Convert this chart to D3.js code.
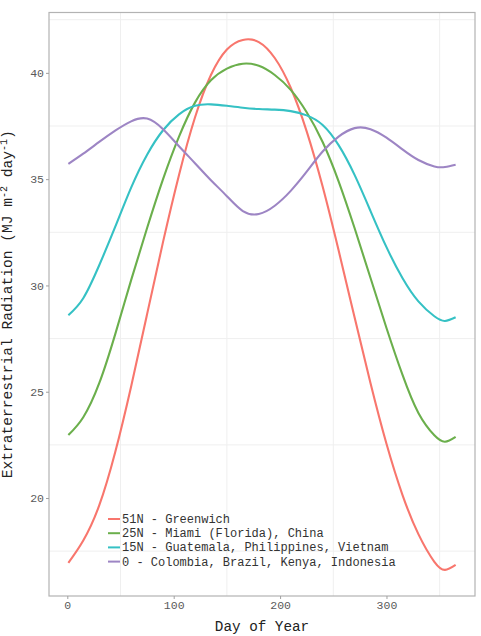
<!DOCTYPE html>
<html>
<head>
<meta charset="utf-8">
<script src="https://cdn.jsdelivr.net/npm/d3@7"></script>
<style>
  body { margin: 0; background: #ffffff; }
  svg { display: block; font-family: "Courier New", "Liberation Mono", monospace; }
</style>
</head>
<body>
<svg id="chart"></svg>
<script>
var days = [1, 15, 30, 45, 60, 75, 90, 105, 120, 135, 150, 165, 180, 195, 210, 225, 240, 255, 270, 285, 300, 315, 330, 345, 355, 365];

var lat51 = [16.95, 18.0, 19.65, 22.15, 25.25, 28.65, 32.05, 35.2, 37.9, 39.9, 41.1, 41.55, 41.45, 40.7, 39.3, 37.25, 34.65, 31.65, 28.5, 25.4, 22.55, 20.15, 18.3, 17.0, 16.62, 16.85];
var lat25 = [22.96, 23.8, 25.4, 27.7, 30.25, 32.7, 35.0, 37.0, 38.6, 39.65, 40.2, 40.43, 40.33, 39.9, 39.2, 38.15, 36.75, 34.9, 32.7, 30.35, 28.0, 25.8, 24.0, 22.95, 22.65, 22.88];
var lat15 = [28.6, 29.4, 30.95, 32.75, 34.6, 36.15, 37.3, 38.05, 38.45, 38.52, 38.45, 38.36, 38.3, 38.27, 38.2, 38.0, 37.55, 36.6, 35.2, 33.5, 31.8, 30.35, 29.25, 28.55, 28.33, 28.5];
var lat0 = [35.72, 36.2, 36.75, 37.28, 37.72, 37.85, 37.35, 36.55, 35.75, 34.95, 34.2, 33.5, 33.36, 33.75, 34.45, 35.35, 36.3, 37.0, 37.4, 37.35, 36.95, 36.4, 35.9, 35.6, 35.57, 35.68];

var seriesNames = ["51N - Greenwich", "25N - Miami (Florida), China", "15N - Guatemala, Philippines, Vietnam", "0 - Colombia, Brazil, Kenya, Indonesia"];
var seriesColors = ["#F8766D", "#6BAF4C", "#35C1C4", "#9D85C4"];

var xTicks = [0, 100, 200, 300];
var yTicks = [20, 25, 30, 35, 40];
var xGrid = [50, 150, 250, 350];
var yGrid = [17.5, 22.5, 27.5, 32.5, 37.5, 42.5];

var dimensions = {
    width: 481,
    height: 636,
    margin: { top: 12.5, bottom: 40, right: 6, left: 49 }
}

var svg = d3.select("#chart")
    .attr("width", dimensions.width)
    .attr("height", dimensions.height);

var panelBottom = dimensions.height - dimensions.margin.bottom;
var panelRight = dimensions.width - dimensions.margin.right;

var xScale = d3.scaleLinear()
    .domain([-17.2, 383.2])
    .range([dimensions.margin.left, panelRight]);

var yScale = d3.scaleLinear()
    .domain([15.39, 42.84])
    .range([panelBottom, dimensions.margin.top]);

// faint grid (only the in-between lines show in the original)
svg.append("g")
    .selectAll("line")
    .data(xGrid)
    .enter()
    .append("line")
    .attr("x1", d => xScale(d))
    .attr("x2", d => xScale(d))
    .attr("y1", dimensions.margin.top)
    .attr("y2", panelBottom)
    .attr("stroke", "#efefef")
    .attr("stroke-width", 1);

svg.append("g")
    .selectAll("line")
    .data(yGrid)
    .enter()
    .append("line")
    .attr("x1", dimensions.margin.left)
    .attr("x2", panelRight)
    .attr("y1", d => yScale(d))
    .attr("y2", d => yScale(d))
    .attr("stroke", "#efefef")
    .attr("stroke-width", 1);

var series = [lat51, lat25, lat15, lat0];

var line = d3.line()
    .x((d, i) => xScale(days[i]))
    .y(d => yScale(d))
    .curve(d3.curveNatural);

svg.append("g")
    .selectAll("path")
    .data(series)
    .enter()
    .append("path")
    .attr("d", d => line(d))
    .attr("fill", "none")
    .attr("stroke", (d, i) => seriesColors[i])
    .attr("stroke-width", 2.1);

// panel border
svg.append("rect")
    .attr("x", dimensions.margin.left)
    .attr("y", dimensions.margin.top)
    .attr("width", panelRight - dimensions.margin.left)
    .attr("height", panelBottom - dimensions.margin.top)
    .attr("fill", "none")
    .attr("stroke", "#b3b3b3")
    .attr("stroke-width", 1.2);

var yAxis = svg.append("g")
    .attr("transform", `translate(${dimensions.margin.left},0)`)
    .call(d3.axisLeft(yScale).tickValues(yTicks).tickSize(3).tickPadding(2));

var xAxis = svg.append("g")
    .attr("transform", `translate(0,${panelBottom})`)
    .call(d3.axisBottom(xScale).tickValues(xTicks).tickSize(3).tickPadding(2));

[xAxis, yAxis].forEach(function(ax) {
    ax.select(".domain").remove();
    ax.selectAll(".tick line").attr("stroke", "#a0a0a0");
    ax.selectAll(".tick text")
        .attr("fill", "#5a5a5a")
        .style("font-family", "'Courier New', 'Liberation Mono', monospace")
        .style("font-size", "11.5px");
});

// axis titles
svg.append("text")
    .attr("x", (dimensions.margin.left + panelRight) / 2)
    .attr("y", 631)
    .attr("text-anchor", "middle")
    .attr("fill", "#222")
    .style("font-size", "14.3px")
    .text("Day of Year");

var yTitle = svg.append("text")
    .attr("transform", "translate(12," + ((dimensions.margin.top + panelBottom) / 2) + ")rotate(-90)")
    .attr("text-anchor", "middle")
    .attr("fill", "#222")
    .style("font-size", "14.6px");

yTitle.append("tspan").text("Extraterrestrial Radiation (MJ m");
yTitle.append("tspan").attr("dy", -5).style("font-size", "10px").text("-2");
yTitle.append("tspan").attr("dy", 5).text(" day");
yTitle.append("tspan").attr("dy", -5).style("font-size", "10px").text("-1");
yTitle.append("tspan").attr("dy", 5).text(")");

// legend inside the panel
var legend = svg.append("g")
    .selectAll("g")
    .data(seriesNames)
    .enter()
    .append("g")
    .attr("transform", (d, i) => `translate(108,${519 + i * 14.2})`);

legend.append("line")
    .attr("x1", 0)
    .attr("x2", 12)
    .attr("stroke", (d, i) => seriesColors[i])
    .attr("stroke-width", 2);

legend.append("text")
    .attr("x", 14)
    .attr("y", 4)
    .attr("fill", "#333")
    .style("font-size", "12px")
    .text(d => d);
</script>
</body>
</html>
